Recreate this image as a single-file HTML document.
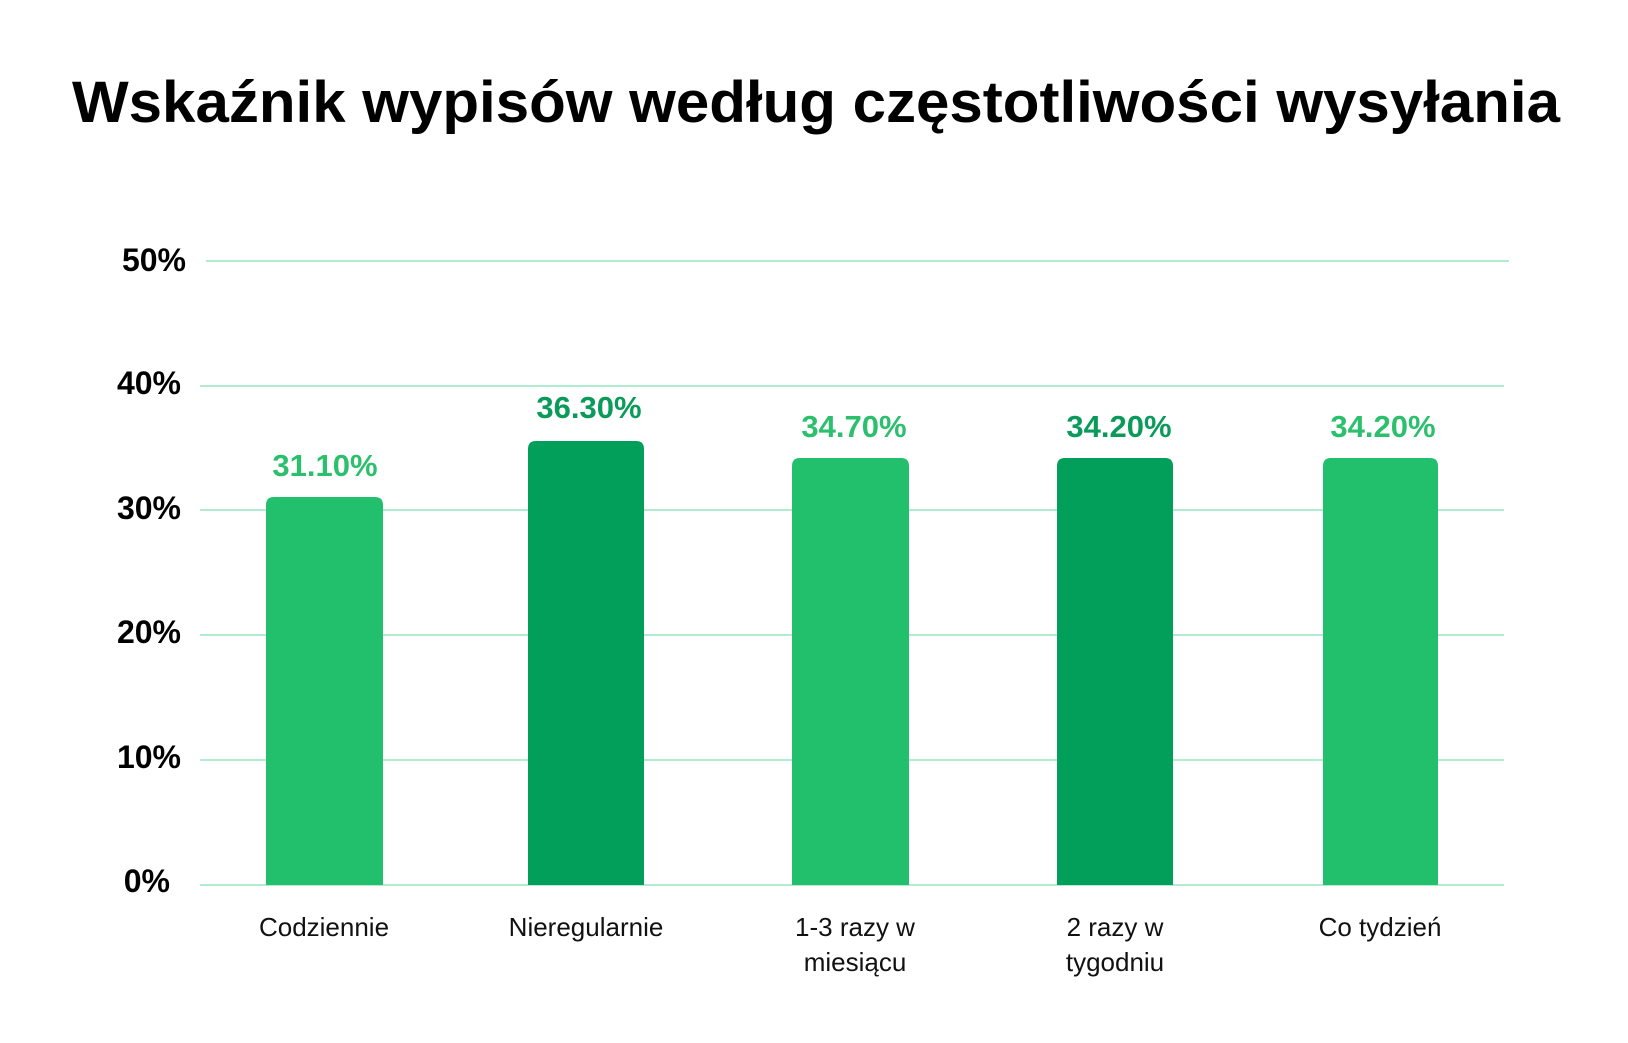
<!DOCTYPE html>
<html><head><meta charset="utf-8"><style>html,body{margin:0;padding:0;background:#fff}</style></head>
<body>
<svg width="1628" height="1038" viewBox="0 0 1628 1038" xmlns="http://www.w3.org/2000/svg" font-family="Liberation Sans, sans-serif">
<rect width="1628" height="1038" fill="#fff"/>
<text x="816" y="122" text-anchor="middle" font-size="58" font-weight="bold" fill="#000" textLength="1488" lengthAdjust="spacingAndGlyphs">Wskaźnik wypisów według częstotliwości wysyłania</text>
<g stroke="#b2ebcf" stroke-width="2">
<line x1="206" y1="261" x2="1509" y2="261"/>
<line x1="200" y1="386" x2="1504" y2="386"/>
<line x1="200" y1="510" x2="1504" y2="510"/>
<line x1="200" y1="635" x2="1504" y2="635"/>
<line x1="200" y1="760" x2="1504" y2="760"/>
<line x1="200" y1="885" x2="1504" y2="885"/>
</g>
<g font-size="32" font-weight="bold" fill="#000" text-anchor="end">
<text x="186" y="271">50%</text>
<text x="181" y="394">40%</text>
<text x="181" y="519">30%</text>
<text x="181" y="643">20%</text>
<text x="181" y="768">10%</text>
<text x="170" y="892">0%</text>
</g>
<g>
<path d="M266,885 V505 Q266,497 274,497 H375 Q383,497 383,505 V885 Z" fill="#22c06c"/>
<path d="M528,885 V449 Q528,441 536,441 H636 Q644,441 644,449 V885 Z" fill="#029f5b"/>
<path d="M792,885 V466 Q792,458 800,458 H901 Q909,458 909,466 V885 Z" fill="#22c06c"/>
<path d="M1057,885 V466 Q1057,458 1065,458 H1165 Q1173,458 1173,466 V885 Z" fill="#029f5b"/>
<path d="M1323,885 V466 Q1323,458 1331,458 H1430 Q1438,458 1438,466 V885 Z" fill="#22c06c"/>
</g>
<g font-size="31" font-weight="bold" text-anchor="middle">
<text x="325" y="476" fill="#2cc06e">31.10%</text>
<text x="589" y="418" fill="#0a9a5a">36.30%</text>
<text x="854" y="437" fill="#2cc06e">34.70%</text>
<text x="1119" y="437" fill="#0a9a5a">34.20%</text>
<text x="1383" y="437" fill="#2cc06e">34.20%</text>
</g>
<g font-size="26" fill="#111" text-anchor="middle">
<text x="324" y="936">Codziennie</text>
<text x="586" y="936">Nieregularnie</text>
<text x="855" y="936">1-3 razy w</text>
<text x="855" y="971">miesiącu</text>
<text x="1115" y="936">2 razy w</text>
<text x="1115" y="971">tygodniu</text>
<text x="1380" y="936">Co tydzień</text>
</g>
</svg>
</body></html>
